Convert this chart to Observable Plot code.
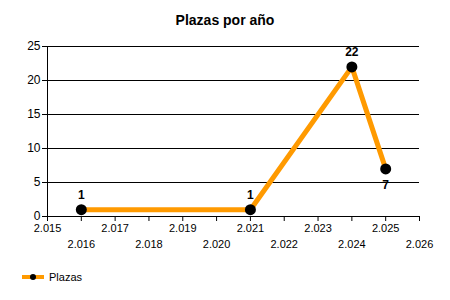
<!DOCTYPE html>
<html>
<head>
<meta charset="utf-8">
<script src="https://cdn.jsdelivr.net/npm/d3@7"></script>
<script src="https://cdn.jsdelivr.net/npm/@observablehq/plot@0.6"></script>
<style>
  html, body { margin: 0; padding: 0; background: #fff; width: 450px; height: 300px; overflow: hidden; }
  body { font-family: "Liberation Sans", Arial, sans-serif; }
  #title { height: 36px; line-height: 40px; text-align: center; font-weight: bold; font-size: 14px; color: #000; }
  #legend { position: absolute; left: 22px; top: 268px; height: 18px; display: flex; align-items: center; font-size: 11px; color: #000; }
  #legend svg { margin-right: 5px; }
</style>
</head>
<body>
<div id="title">Plazas por año</div>
<div id="chart"></div>
<div id="legend"><svg width="22" height="10"><line x1="0" y1="5" x2="22" y2="5" stroke="#FF9A00" stroke-width="4"/><circle cx="11" cy="5" r="3" fill="#000"/></svg><span>Plazas</span></div>
<script>
const years = [2016, 2021, 2024, 2025];
const plazas = [1, 1, 22, 7];
const seriesName = "Plazas";
const xTicks = d3.range(2015, 2027);
const yTicks = [0, 5, 10, 15, 20, 25];

const data = years.map((y, i) => ({year: y, value: plazas[i], below: i === years.length - 1}));
const fmt = d3.formatLocale({decimal: ",", thousands: ".", grouping: [3], currency: ["", "€"]}).format(",d");

const chart = Plot.plot({
  width: 450,
  height: 230,
  marginLeft: 47,
  marginRight: 31,
  marginTop: 10,
  marginBottom: 50,
  style: {fontFamily: "Liberation Sans, Arial, sans-serif", fontSize: "11px", color: "#000", background: "#fff"},
  x: {domain: [2015, 2026]},
  y: {domain: [0, 25]},
  marks: [
    Plot.ruleY(yTicks.filter(d => d > 0), {x1: 2015, x2: 2026, stroke: "#000", strokeWidth: 1}),
    Plot.ruleY([0], {x1: 2015, x2: 2026, stroke: "#000"}),
    Plot.ruleX([2015], {y1: 0, y2: 25, stroke: "#000"}),
    Plot.axisY({ticks: yTicks, tickSize: 5, tickPadding: 2, fontSize: 12, label: null, stroke: "#000"}),
    Plot.axisX({ticks: xTicks.filter((d, i) => i % 2 === 0), tickSize: 5, tickPadding: 3, tickFormat: fmt, fontSize: 11, label: null}),
    Plot.axisX({ticks: xTicks.filter((d, i) => i % 2 === 1), tickSize: 5, tickPadding: 19, tickFormat: fmt, fontSize: 11, label: null}),
    Plot.line(data, {x: "year", y: "value", stroke: "#FF9A00", strokeWidth: 5}),
    Plot.dot(data, {x: "year", y: "value", r: 5.5, fill: "#000"}),
    Plot.text(data.filter(d => !d.below), {x: "year", y: "value", text: d => String(d.value), dy: -15, fontWeight: "bold", fontSize: 12, fill: "#000"}),
    Plot.text(data.filter(d => d.below), {x: "year", y: "value", text: d => String(d.value), dy: 16, fontWeight: "bold", fontSize: 12, fill: "#000"})
  ]
});
document.getElementById("chart").appendChild(chart);
</script>
</body>
</html>
